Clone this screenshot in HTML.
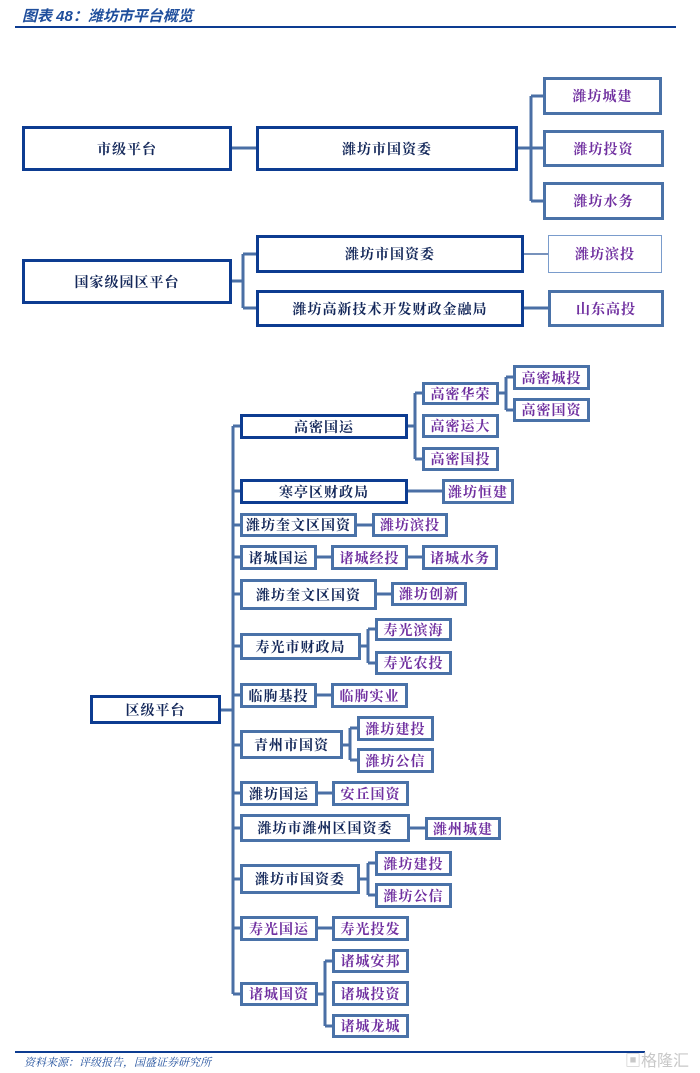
<!DOCTYPE html>
<html><head><meta charset="utf-8"><style>
body{margin:0;width:700px;height:1073px;background:#fff;position:relative;overflow:hidden;font-family:"Liberation Serif","Noto Serif CJK SC",serif;}
.b{position:absolute;box-sizing:border-box;display:flex;align-items:center;justify-content:center;font-weight:bold;font-size:14px;color:#14285a;background:#fff;border:3px solid #4a72a8;letter-spacing:1px;white-space:nowrap}
.t{border:3px solid #0d3c91}
.p{color:#7030a0}
.l{border:1.5px solid #7a9ccc}
svg{position:absolute;left:0;top:0}
</style></head><body>
<div style="position:absolute;left:22px;top:5px;font-size:15px;font-style:italic;font-weight:bold;color:#1f4e9c;font-family:'Liberation Sans','Noto Sans CJK SC',sans-serif">图表 48：潍坊市平台概览</div>
<div style="position:absolute;left:15px;top:26px;width:661px;height:2px;background:#0d3c91"></div>
<svg width="700" height="1073"><g stroke="#4a6fa5" stroke-width="3" fill="none">
<path d="M232 148H256M518 148H543M531 96V201M531 96H543M531 201H543"/>
<path d="M232 281H243M243 254V308M243 254H256M243 308H256M524 308H548"/>
<path d="M524 254H548" stroke-width="1.5"/>
<path d="M221 710H233M233 426V994"/>
<path d="M233 426H240M233 491H240M233 525H240M233 557H240M233 594H240M233 646H240M233 695H240M233 745H240M233 793H240M233 828H240M233 879H240M233 928H240M233 994H240"/>
<path d="M408 426H415M415 393V459M415 393H422M415 459H422M499 393H506M506 377V410M506 377H513M506 410H513"/>
<path d="M408 491H442M357 525H372M317 557H331M408 557H422M377 594H391"/>
<path d="M361 646H368M368 629V663M368 629H375M368 663H375M317 695H331"/>
<path d="M342 745H350M350 728V760M350 728H357M350 760H357M318 793H332M410 828H425"/>
<path d="M360 879H368M368 863V895M368 863H375M368 895H375M318 928H332"/>
<path d="M318 994H325M325 961V1026M325 961H332M325 1026H332"/>
</g></svg>
<div class="b t" style="left:22px;top:126px;width:210px;height:45px">市级平台</div>
<div class="b t" style="left:256px;top:126px;width:262px;height:45px">潍坊市国资委</div>
<div class="b p" style="left:543px;top:77px;width:119px;height:38px">潍坊城建</div>
<div class="b p" style="left:543px;top:130px;width:121px;height:37px">潍坊投资</div>
<div class="b p" style="left:543px;top:182px;width:121px;height:38px">潍坊水务</div>
<div class="b t" style="left:22px;top:259px;width:210px;height:45px">国家级园区平台</div>
<div class="b t" style="left:256px;top:235px;width:268px;height:38px">潍坊市国资委</div>
<div class="b t" style="left:256px;top:290px;width:268px;height:37px">潍坊高新技术开发财政金融局</div>
<div class="b p l" style="left:548px;top:235px;width:114px;height:38px">潍坊滨投</div>
<div class="b p" style="left:548px;top:290px;width:116px;height:37px">山东高投</div>

<div class="b t" style="left:90px;top:695px;width:131px;height:29px">区级平台</div>
<div class="b t" style="left:240px;top:414px;width:168px;height:25px">高密国运</div>
<div class="b p" style="left:422px;top:382px;width:77px;height:23px">高密华荣</div>
<div class="b p" style="left:513px;top:365px;width:77px;height:25px">高密城投</div>
<div class="b p" style="left:513px;top:398px;width:77px;height:24px">高密国资</div>
<div class="b p" style="left:422px;top:414px;width:77px;height:24px">高密运大</div>
<div class="b p" style="left:422px;top:447px;width:77px;height:24px">高密国投</div>
<div class="b t" style="left:240px;top:479px;width:168px;height:25px">寒亭区财政局</div>
<div class="b p" style="left:442px;top:479px;width:72px;height:25px">潍坊恒建</div>
<div class="b" style="left:240px;top:513px;width:117px;height:24px">潍坊奎文区国资</div>
<div class="b p" style="left:372px;top:513px;width:76px;height:24px">潍坊滨投</div>
<div class="b" style="left:240px;top:545px;width:77px;height:25px">诸城国运</div>
<div class="b p" style="left:331px;top:545px;width:77px;height:25px">诸城经投</div>
<div class="b p" style="left:422px;top:545px;width:76px;height:25px">诸城水务</div>
<div class="b" style="left:240px;top:579px;width:137px;height:31px">潍坊奎文区国资</div>
<div class="b p" style="left:391px;top:582px;width:76px;height:24px">潍坊创新</div>
<div class="b" style="left:240px;top:633px;width:121px;height:27px">寿光市财政局</div>
<div class="b p" style="left:375px;top:618px;width:77px;height:23px">寿光滨海</div>
<div class="b p" style="left:375px;top:651px;width:77px;height:24px">寿光农投</div>
<div class="b" style="left:240px;top:683px;width:77px;height:25px">临朐基投</div>
<div class="b p" style="left:331px;top:683px;width:77px;height:25px">临朐实业</div>
<div class="b" style="left:240px;top:730px;width:103px;height:29px">青州市国资</div>
<div class="b p" style="left:357px;top:716px;width:77px;height:25px">潍坊建投</div>
<div class="b p" style="left:357px;top:748px;width:77px;height:25px">潍坊公信</div>
<div class="b" style="left:240px;top:781px;width:78px;height:25px">潍坊国运</div>
<div class="b p" style="left:332px;top:781px;width:77px;height:25px">安丘国资</div>
<div class="b" style="left:240px;top:814px;width:170px;height:28px">潍坊市潍州区国资委</div>
<div class="b p" style="left:425px;top:817px;width:76px;height:23px">潍州城建</div>
<div class="b" style="left:240px;top:864px;width:120px;height:30px">潍坊市国资委</div>
<div class="b p" style="left:375px;top:851px;width:77px;height:25px">潍坊建投</div>
<div class="b p" style="left:375px;top:883px;width:77px;height:25px">潍坊公信</div>
<div class="b p" style="left:240px;top:916px;width:78px;height:25px">寿光国运</div>
<div class="b p" style="left:332px;top:916px;width:77px;height:25px">寿光投发</div>
<div class="b p" style="left:240px;top:982px;width:78px;height:24px">诸城国资</div>
<div class="b p" style="left:332px;top:949px;width:77px;height:24px">诸城安邦</div>
<div class="b p" style="left:332px;top:981px;width:77px;height:25px">诸城投资</div>
<div class="b p" style="left:332px;top:1014px;width:77px;height:24px">诸城龙城</div>

<div style="position:absolute;left:15px;top:1051px;width:630px;height:2px;background:#0d3c91"></div>
<div style="position:absolute;left:24px;top:1054px;font-size:11px;font-style:italic;color:#1f4e9c">资料来源：评级报告，国盛证券研究所</div>
<div style="position:absolute;left:625px;top:1047px;font-size:16px;color:#c8c8c8;font-family:'Liberation Sans','Noto Sans CJK SC',sans-serif">▣格隆汇</div>
</body></html>
